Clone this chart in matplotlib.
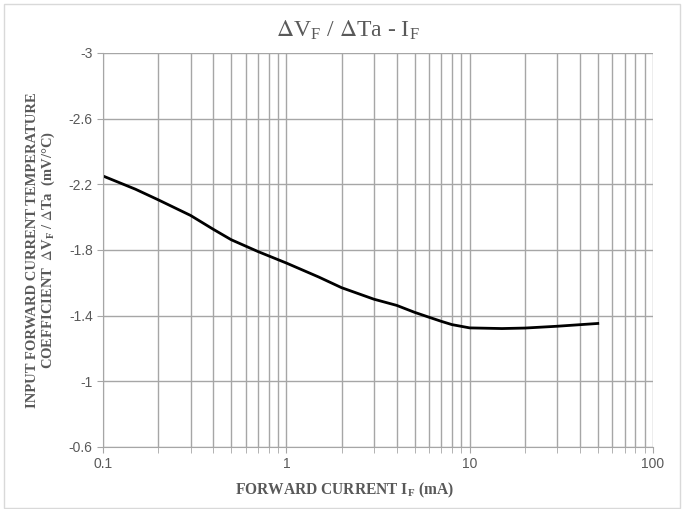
import matplotlib.pyplot as plt
import matplotlib.patches as patches
import numpy as np

# Forward current (mA) and temperature coefficient (mV/degC)
current = [0.1, 0.15, 0.2, 0.3, 0.4, 0.5, 0.7, 1, 1.5, 2, 3, 4, 5, 6, 7, 8, 10, 15, 20, 30, 50]
coeff = [-2.25, -2.17, -2.105, -2.01, -1.925, -1.862, -1.79, -1.72, -1.635, -1.57, -1.50,
         -1.462, -1.42, -1.39, -1.365, -1.345, -1.325, -1.321, -1.324, -1.335, -1.352]

y_ticks = [-3, -2.6, -2.2, -1.8, -1.4, -1, -0.6]
y_tick_labels = ['-3', '-2.6', '-2.2', '-1.8', '-1.4', '-1', '-0.6']
x_ticks = [0.1, 1, 10, 100]
x_tick_labels = ['0.1', '1', '10', '100']

plt.rcParams['mathtext.fontset'] = 'stix'
serif = 'Liberation Serif'
txt_color = '#595959'
grid_color = '#a6a6a6'

fig = plt.figure(figsize=(6.83, 5.09), dpi=100)
ax = fig.add_axes([0.151, 0.122, 0.805, 0.774])

ax.plot(current, coeff, color='black', linewidth=2.0)

ax.set_xscale('log')
ax.set_xlim(0.1, 100)
ax.set_ylim(-0.6, -3)

ax.set_xticks(x_ticks)
ax.set_xticklabels(x_tick_labels)
ax.set_yticks(y_ticks)
ax.set_yticklabels(y_tick_labels)

ax.grid(True, which='major', color=grid_color, linewidth=1)
ax.grid(True, which='minor', axis='x', color=grid_color, linewidth=1)
ax.set_axisbelow(True)

for s in ['top', 'right']:
    ax.spines[s].set_visible(False)
for s in ['left', 'bottom']:
    ax.spines[s].set_color(grid_color)

ax.tick_params(axis='both', which='major', length=4, color=grid_color,
               labelcolor=txt_color, labelsize=10)
ax.tick_params(axis='x', which='minor', length=4, color=grid_color, labelbottom=False)
for lbl in ax.get_xticklabels() + ax.get_yticklabels():
    lbl.set_family('Liberation Sans')

ax.set_title(r'$\Delta$V$_\mathregular{F}$ / $\Delta$Ta - I$_\mathregular{F}$',
             family=serif, fontsize=17, color=txt_color, pad=12, x=0.446)
ax.set_xlabel(r'FORWARD CURRENT I$_\mathregular{F}$ (mA)', family=serif,
              fontweight='bold', fontsize=11.2, color=txt_color)
ax.xaxis.set_label_coords(0.44, -0.085)
ax.set_ylabel('INPUT FORWARD CURRENT TEMPERATURE\n'
              r'COEFFICIENT  $\Delta$V$_\mathregular{F}$ / $\Delta$Ta  (mV/°C)',
              family=serif, fontweight='bold', fontsize=10.5, color=txt_color,
              labelpad=8, linespacing=1.1)

# chart area border
fig.patches.append(patches.Rectangle((0.006, 0.002), 0.99, 0.99, transform=fig.transFigure,
                                     fill=False, edgecolor='#d9d9d9', linewidth=1))

plt.savefig('out.png', dpi=100)
